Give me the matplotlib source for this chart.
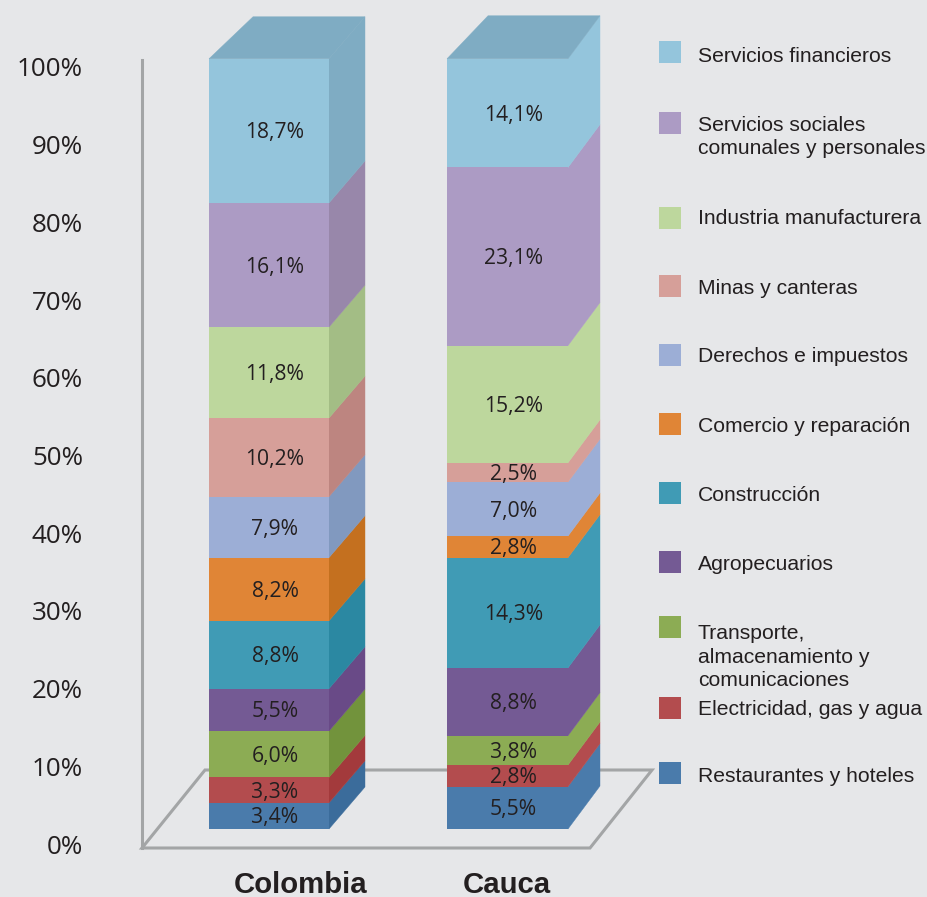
import matplotlib
matplotlib.use("Agg")
import matplotlib.pyplot as plt
import numpy as np
from matplotlib.patches import Polygon, Rectangle

# Bottom to top
sectors = ["Restaurantes y hoteles", "Electricidad, gas y agua",
           "Transporte,\nalmacenamiento y\ncomunicaciones", "Agropecuarios",
           "Construcción", "Comercio y reparación", "Derechos e impuestos",
           "Minas y canteras", "Industria manufacturera",
           "Servicios sociales\ncomunales y personales", "Servicios financieros"]
colombia = [3.4, 3.3, 6.0, 5.5, 8.8, 8.2, 7.9, 10.2, 11.8, 16.1, 18.7]
cauca = [5.5, 2.8, 3.8, 8.8, 14.3, 2.8, 7.0, 2.5, 15.2, 23.1, 14.1]
regions = ["Colombia", "Cauca"]
tick_labels = ["0%", "10%", "20%", "30%", "40%", "50%", "60%", "70%", "80%", "90%", "100%"]

front_colors = ["#4a7bab", "#b34c4e", "#8cac54", "#745a94", "#409bb5", "#e08536",
                "#9caed6", "#d69f99", "#bdd79d", "#ac9bc4", "#94c5dc"]
side_colors = ["#3b6c9b", "#a33a3c", "#72933c", "#694a87", "#2b88a2", "#c4701f",
               "#8199bf", "#bd8580", "#a3bd85", "#9887aa", "#7facc3"]
top_color = "#7facc3"
bg = "#e6e7e9"
line_color = "#a3a5a6"
text_color = "#231f20"

W, H = 928, 897
BASE = 829
SCALE = 7.71


def py(pixel):
    # pixel row to value on the percent axis
    return (BASE - pixel) / SCALE


fig = plt.figure(figsize=(W / 100, H / 100), dpi=100, facecolor=bg)
ax = fig.add_axes([0, 0, 1, 1])
ax.set_xlim(0, W)
ax.set_ylim(py(H), py(0))
ax.axis("off")

# floor and axis line
floor = Polygon([(142, py(848)), (590, py(848)), (652, py(770)), (205, py(770))],
                closed=True, fill=False, ec=line_color, lw=2.2, zorder=1)
ax.add_patch(floor)
ax.plot([142, 142], [py(60), py(848)], color=line_color, lw=2.2, zorder=1)


def draw_column(values, left, right, dx_left, dx_right, dy, sides):
    values = np.array(values)
    bottoms = np.concatenate([[0], np.cumsum(values)[:-1]])
    width = right - left
    ax.bar(left, values, width=width, bottom=bottoms, align="edge",
           color=front_colors, lw=0, zorder=3)
    d = dy / SCALE
    for b, v, c in zip(bottoms, values, sides):
        ax.add_patch(Polygon([(right, b), (right + dx_right, b + d),
                              (right + dx_right, b + v + d), (right, b + v)],
                             closed=True, fc=c, ec=c, lw=0.3, zorder=2))
    top = bottoms[-1] + values[-1]
    ax.add_patch(Polygon([(left, top), (left + dx_left, top + d),
                          (right + dx_right, top + d), (right, top)],
                         closed=True, fc=top_color, ec=top_color, lw=0.3, zorder=2))
    for b, v in zip(bottoms, values):
        ax.text(left + width * 0.55, b + v / 2 - 2 / SCALE, f"{v:.1f}%".replace(".", ","),
                ha="center", va="center", fontsize=15.2, family="Open Sans",
                color=text_color, zorder=4)


draw_column(colombia, 209, 329, 44, 36, 42, side_colors)
draw_column(cauca, 447, 568, 41, 32, 43, front_colors)

# region names
for name, x in zip(regions, [301, 507]):
    ax.text(x, py(885), name, ha="center", va="center", fontsize=21.2,
            family="Liberation Sans", weight="bold", color=text_color)

# y labels sit in front of the floor, so not on the bar scale
for i, lab in enumerate(tick_labels):
    ax.text(83, py(847 - i * 77.7), lab, ha="right", va="center", fontsize=18.7,
            family="Open Sans", color=text_color)

# legend, top entry first
legend_rows = [52, 123, 218, 286, 355, 424, 493, 562, 627, 708, 773]
text_rows = [56, 137, 219, 288, 357, 426, 495, 564, 657, 709, 776]
for i, (lab, c) in enumerate(zip(sectors[::-1], front_colors[::-1])):
    ax.add_patch(Rectangle((659, py(legend_rows[i] + 11)), 22, 22 / SCALE, fc=c, ec="none"))
    ax.text(698, py(text_rows[i]), lab, ha="left", va="center", fontsize=15.25,
            family="Liberation Sans", color=text_color, linespacing=1.33)

fig.savefig("out.png", dpi=100, facecolor=bg)
